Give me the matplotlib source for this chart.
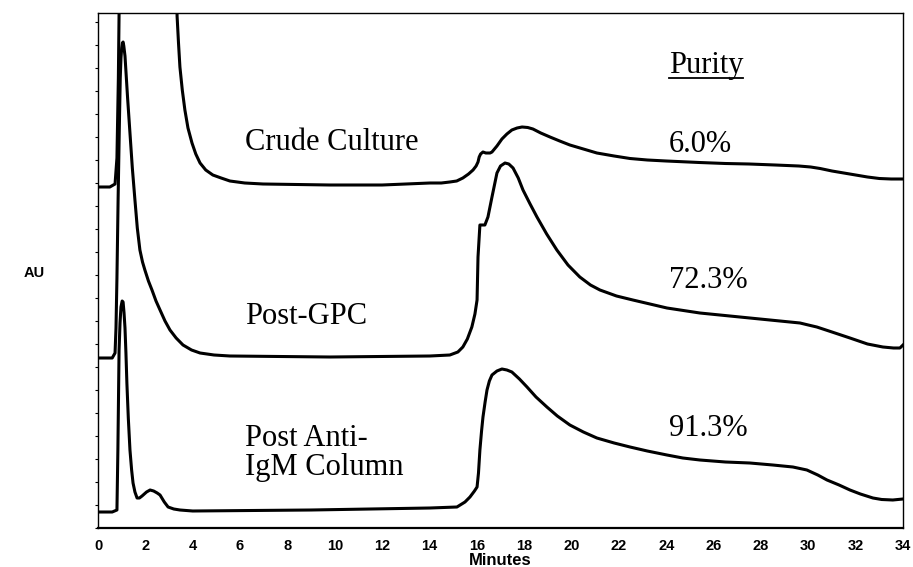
import matplotlib
matplotlib.use("Agg")
import matplotlib.pyplot as plt
from matplotlib.ticker import MultipleLocator
from matplotlib.lines import Line2D

# retention time (minutes) / detector response (AU, arbitrary)
crude_t = [0.0, 0.5, 0.72, 0.8, 0.86, 0.93, 3.30, 3.34, 3.40, 3.46, 3.56, 3.67, 3.8, 3.97,
           4.13, 4.31, 4.55, 4.85, 5.2, 5.57, 6.2, 6.97, 9.8, 12.0, 14.02, 14.5, 14.86,
           15.15, 15.41, 15.65, 15.84, 15.97, 16.05, 16.1, 16.16, 16.26, 16.38, 16.47,
           16.56, 16.64, 16.85, 17.06, 17.27, 17.48, 17.7, 17.91, 18.15, 18.37, 18.7,
           19.09, 19.5, 19.93, 20.5, 21.07, 21.8, 22.47, 23.2, 24.0, 25.4, 26.5, 27.5,
           28.6, 29.6, 30.1, 30.5, 31.0, 31.5, 32.0, 32.5, 33.0, 33.5, 34.0]
crude_y = [341, 341, 344, 370, 450, 600, 600, 512, 485, 461, 438, 418, 400, 385,
           374, 365, 358, 353, 350, 347, 345, 344, 343, 343, 345, 345, 346,
           347, 350, 354, 358, 362, 366, 371, 374, 376, 375, 375,
           375, 376, 382, 389, 394, 398, 400, 401, 400.5, 399, 395,
           391, 387, 383, 379, 375, 372, 369.5, 368, 367, 365.5, 364.5, 364,
           363, 362, 361, 359.5, 357, 355, 353, 351, 349.5, 349, 349]

gpc_t = [0.0, 0.6, 0.72, 0.76, 0.8, 0.85, 0.9, 0.94, 0.97, 1.0, 1.03, 1.06, 1.09, 1.14,
         1.25, 1.35, 1.45, 1.56, 1.66, 1.77, 1.88, 1.98, 2.13, 2.28, 2.45, 2.62, 2.83,
         3.04, 3.3, 3.59, 3.95, 4.31, 4.9, 5.57, 9.8, 14.02, 14.86, 15.2, 15.41, 15.6,
         15.79, 15.92, 16.01, 16.05, 16.13, 16.34, 16.47, 16.64, 16.85, 17.0, 17.19,
         17.35, 17.53, 17.75, 17.95, 18.25, 18.54, 18.95, 19.38, 19.85, 20.35, 20.8,
         21.2, 21.9, 22.59, 24.03, 25.42, 27.53, 29.65, 30.0, 30.36, 31.0, 31.76, 32.5,
         33.15, 33.6, 33.87, 34.0]
gpc_y = [170, 170, 175, 200, 250, 330, 400, 450, 470, 480, 485, 486, 482, 472,
         430, 395, 360, 328, 300, 278, 266, 258, 247, 238, 227, 218, 207,
         198, 190, 183, 178, 175, 173, 172, 171, 172, 173, 176, 181, 189,
         201, 214, 228, 271, 303, 303, 311, 331, 355, 362, 365,
         364, 360, 350, 338, 324, 311, 294, 278, 263, 251, 243,
         238, 232, 228, 220, 215, 210, 205, 203, 201, 196, 190, 184,
         181, 180, 180, 183]

igm_t = [0.0, 0.6, 0.8, 0.84, 0.89, 0.93, 0.97, 1.02, 1.06, 1.1, 1.14, 1.18, 1.22, 1.28,
         1.35, 1.42, 1.48, 1.56, 1.65, 1.75, 1.86, 2.05, 2.2, 2.35, 2.5, 2.62, 2.8, 2.96,
         3.2, 3.46, 4.0, 9.0, 14.02, 15.16, 15.5, 15.71, 15.9, 16.01, 16.07, 16.13, 16.2,
         16.26, 16.35, 16.43, 16.53, 16.64, 16.85, 17.06, 17.27, 17.48, 17.8, 18.12, 18.5,
         18.96, 19.4, 19.93, 20.5, 21.07, 21.8, 22.47, 23.2, 24.03, 24.7, 25.42, 26.5,
         27.53, 28.5, 29.35, 29.94, 30.4, 30.79, 31.3, 31.76, 32.2, 32.73, 33.1, 33.57, 34.0]
igm_y = [16, 16, 18, 78, 178, 205, 221, 227, 226, 215, 200, 175, 145, 110,
         78, 58, 45, 36, 30, 30, 32, 36, 38, 37, 35, 33, 26, 21,
         19, 18, 17, 18, 20, 21, 26, 31, 37, 41, 55, 78, 97,
         111, 126, 138, 147, 153, 157, 159, 158, 156, 149, 141, 131,
         121, 112, 103, 96, 90, 85, 81, 77, 73, 70, 68, 66,
         65, 63, 61, 58, 53, 48, 43, 38, 34, 30, 28.5, 28, 29]

x_ticks = list(range(0, 35, 2))

# (text, x in minutes, y in AU)
sample_labels = [("Crude Culture", 6.2, 385), ("Post-GPC", 6.2, 212),
                 ("Post Anti-\nIgM Column", 6.2, 75)]
purity_labels = [("6.0%", 24.1, 384), ("72.3%", 24.1, 247), ("91.3%", 24.1, 100)]

serif = "Liberation Serif"
sans = "Liberation Sans"

fig = plt.figure(figsize=(9.13, 5.67), dpi=100)
ax = fig.add_axes([98 / 913, 1 - 528 / 567, 805 / 913, 515 / 567])

for t, y in [(crude_t, crude_y), (gpc_t, gpc_y), (igm_t, igm_y)]:
    ax.plot(t, y, color="black", linewidth=2.2, solid_joinstyle="round")

ax.set_xlim(0, 34)
ax.set_ylim(0, 515)

for s in ax.spines.values():
    s.set_linewidth(1.0)
ax.spines["bottom"].set_linewidth(1.6)

ax.set_xticks(x_ticks)
ax.set_xticklabels([str(v) for v in x_ticks], fontfamily=sans, fontweight="bold", fontsize=10.5)
ax.tick_params(axis="x", length=0, pad=8)
ax.yaxis.set_major_locator(MultipleLocator(23))
ax.tick_params(axis="y", length=2, width=0.8, direction="out", labelleft=False)

ax.set_xlabel("Minutes", fontfamily=sans, fontweight="bold", fontsize=12, labelpad=0)
fig.text(34 / 913, 1 - 273 / 567, "AU", fontfamily=sans, fontweight="bold", fontsize=10.5,
         ha="center", va="center")

for txt, x, y in sample_labels:
    ax.text(x, y, txt, fontfamily=serif, fontsize=22, ha="left", va="center",
            linespacing=1.0)
for txt, x, y in purity_labels:
    ax.text(x, y, txt, fontfamily=serif, fontsize=22, ha="left", va="center")

purity = ax.text(24.1, 463, "Purity", fontfamily=serif, fontsize=22, ha="left", va="center")
fig.canvas.draw()
bb = purity.get_window_extent()
inv = fig.transFigure.inverted()
(x0, y0), (x1, _) = inv.transform([(bb.x0, bb.y0 + 2), (bb.x1, bb.y0 + 2)])
fig.add_artist(Line2D([x0, x1], [y0, y0], color="black", linewidth=1.3))

fig.savefig("out.png", dpi=100)
